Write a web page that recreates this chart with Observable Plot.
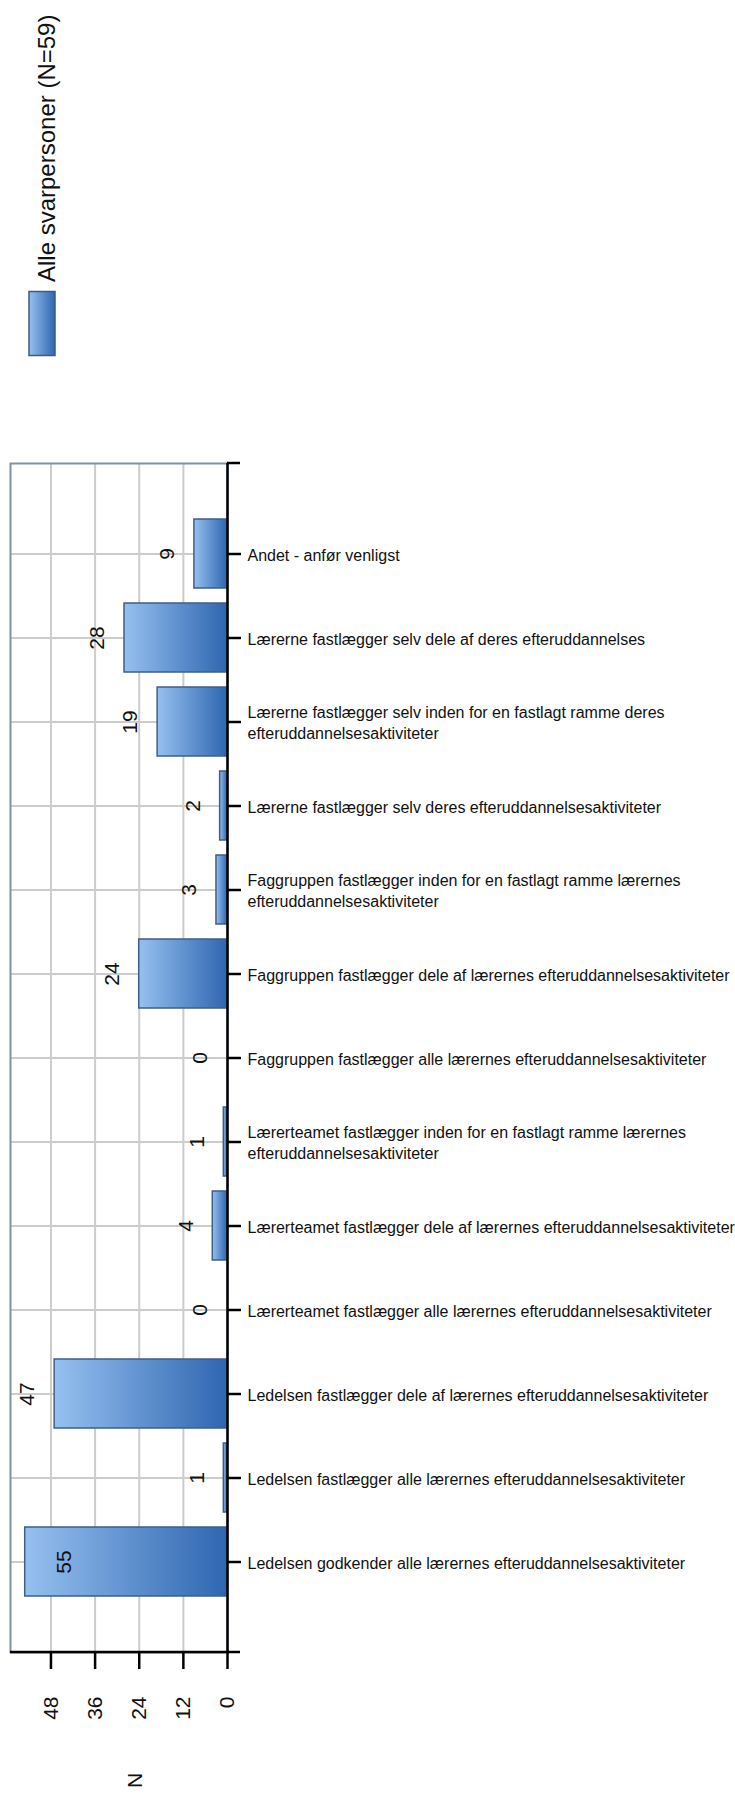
<!DOCTYPE html>
<html>
<head>
<meta charset="utf-8">
<script src="https://cdn.jsdelivr.net/npm/d3@7"></script>
<script src="https://cdn.jsdelivr.net/npm/@observablehq/plot@0.6"></script>
<style>
  body { margin: 0; background: #fff; font-family: "Liberation Sans", Arial, sans-serif; }
  #legend { position: relative; width: 735px; height: 400px; }
  #legend svg { position: absolute; left: 0; top: 0; }
  #chart svg { display: block; }
</style>
</head>
<body>
<div id="legend"></div>
<div id="chart"></div>
<script>
// Categories from top to bottom as drawn
const categories = [
  "Andet - anfør venligst",
  "Lærerne fastlægger selv dele af deres efteruddannelses",
  "Lærerne fastlægger selv inden for en fastlagt ramme deres efteruddannelsesaktiviteter",
  "Lærerne fastlægger selv deres efteruddannelsesaktiviteter",
  "Faggruppen fastlægger inden for en fastlagt ramme lærernes efteruddannelsesaktiviteter",
  "Faggruppen fastlægger dele af lærernes efteruddannelsesaktiviteter",
  "Faggruppen fastlægger alle lærernes efteruddannelsesaktiviteter",
  "Lærerteamet fastlægger inden for en fastlagt ramme lærernes efteruddannelsesaktiviteter",
  "Lærerteamet fastlægger dele af lærernes efteruddannelsesaktiviteter",
  "Lærerteamet fastlægger alle lærernes efteruddannelsesaktiviteter",
  "Ledelsen fastlægger dele af lærernes efteruddannelsesaktiviteter",
  "Ledelsen fastlægger alle lærernes efteruddannelsesaktiviteter",
  "Ledelsen godkender alle lærernes efteruddannelsesaktiviteter"
];
// Tick labels (with the line breaks used in the chart)
const tickLabels = [
  "Andet - anfør venligst",
  "Lærerne fastlægger selv dele af deres efteruddannelses",
  "Lærerne fastlægger selv inden for en fastlagt ramme deres\nefteruddannelsesaktiviteter",
  "Lærerne fastlægger selv deres efteruddannelsesaktiviteter",
  "Faggruppen fastlægger inden for en fastlagt ramme lærernes\nefteruddannelsesaktiviteter",
  "Faggruppen fastlægger dele af lærernes efteruddannelsesaktiviteter",
  "Faggruppen fastlægger alle lærernes efteruddannelsesaktiviteter",
  "Lærerteamet fastlægger inden for en fastlagt ramme lærernes\nefteruddannelsesaktiviteter",
  "Lærerteamet fastlægger dele af lærernes efteruddannelsesaktiviteter",
  "Lærerteamet fastlægger alle lærernes efteruddannelsesaktiviteter",
  "Ledelsen fastlægger dele af lærernes efteruddannelsesaktiviteter",
  "Ledelsen fastlægger alle lærernes efteruddannelsesaktiviteter",
  "Ledelsen godkender alle lærernes efteruddannelsesaktiviteter"
];
const values = [9, 28, 19, 2, 3, 24, 0, 1, 4, 0, 47, 1, 55];
const xTicks = [0, 12, 24, 36, 48];
const xMax = 59;
const seriesName = "Alle svarpersoner (N=59)";
const axisTitle = "N";

const data = categories.map((c, i) => ({category: c, label: tickLabels[i], value: values[i]}));
const labelOf = new Map(data.map(d => [d.category, d.label]));

// Legend (rotated, above the chart)
const leg = d3.select("#legend").append("svg").attr("width", 735).attr("height", 400);
const ldefs = leg.append("defs");
const lg = ldefs.append("linearGradient").attr("id", "legGrad").attr("x1", 0).attr("x2", 1).attr("y1", 0).attr("y2", 0);
lg.append("stop").attr("offset", "0%").attr("stop-color", "#96c0f0");
lg.append("stop").attr("offset", "100%").attr("stop-color", "#2e66b0");
leg.append("rect").attr("x", 29).attr("y", 291.5).attr("width", 26).attr("height", 64)
  .attr("fill", "url(#legGrad)").attr("stroke", "#3f5a7c").attr("stroke-width", 1.5);
leg.append("text").attr("transform", "translate(55,282) rotate(-90)")
  .attr("font-size", 24).attr("fill", "#111").attr("font-family", "Liberation Sans, Arial, sans-serif")
  .text(seriesName);

const gradDefs = () => {
  const defs = d3.create("svg:defs");
  const g = defs.append("linearGradient").attr("id", "barGrad")
    .attr("x1", 0).attr("x2", 1).attr("y1", 0).attr("y2", 0);
  g.append("stop").attr("offset", "0%").attr("stop-color", "#96c0f0");
  g.append("stop").attr("offset", "100%").attr("stop-color", "#2e66b0");
  return defs.node();
};

const plot = Plot.plot({
  width: 735,
  height: 1396,
  marginLeft: 10,
  marginRight: 508,
  marginTop: 63,
  marginBottom: 144,
  style: {fontFamily: "Liberation Sans, Arial, sans-serif", background: "white", color: "#111"},
  x: {domain: [0, xMax], reverse: true, axis: null},
  y: {domain: categories, paddingInner: 0.176, paddingOuter: 0.588, axis: null},
  marks: [
    gradDefs,
    Plot.ruleX(xTicks.filter(t => t > 0), {stroke: "#cccccc", strokeWidth: 2}),
    Plot.ruleY(data, {y: "category", stroke: "#cccccc", strokeWidth: 2}),
    Plot.frame({stroke: "#7f92a8", strokeWidth: 2}),
    Plot.barX(data, {x: "value", y: "category", fill: "url(#barGrad)", stroke: "#3f5f86", strokeWidth: 1.5}),
    Plot.ruleX([0], {stroke: "black", strokeWidth: 2.5}),
    Plot.axisY({anchor: "right", tickSize: 13, tickPadding: 7, tickFormat: c => labelOf.get(c),
      fontSize: 16, lineHeight: 1.33, stroke: "black", strokeWidth: 2.5, fill: "#111", label: null}),
    Plot.axisX(xTicks, {anchor: "bottom", tickSize: 17, tickPadding: 27, tickRotate: -90,
      fontSize: 21, stroke: "black", strokeWidth: 2.5, fill: "#111", label: null}),
    Plot.text(data.filter(d => d.value < 52), {x: "value", y: "category", text: d => String(d.value),
      rotate: -90, dx: -27, fontSize: 21, fill: "#111"}),
    Plot.text(data.filter(d => d.value >= 52), {x: "value", y: "category", text: d => String(d.value),
      rotate: -90, dx: 39, fontSize: 21, fill: "#111"}),
    Plot.text([axisTitle], {frameAnchor: "bottom", text: d => d, rotate: -90, dy: 128, dx: 23, fontSize: 21, fill: "#111"})
  ]
});

document.getElementById("chart").appendChild(plot);

// Extend axis lines beyond the frame (black bottom line and top tick)
const xs = plot.scale("x"), ys = plot.scale("y");
const x0 = xs.apply(0), xL = xs.apply(xMax);
const [yTop, yBot] = ys.range;
const svg = d3.select(plot);
svg.append("line").attr("x1", xL).attr("x2", x0 + 13).attr("y1", yBot).attr("y2", yBot)
  .attr("stroke", "black").attr("stroke-width", 2.5);
svg.append("line").attr("x1", x0).attr("x2", x0 + 13).attr("y1", yTop).attr("y2", yTop)
  .attr("stroke", "black").attr("stroke-width", 2.5);
</script>
</body>
</html>
